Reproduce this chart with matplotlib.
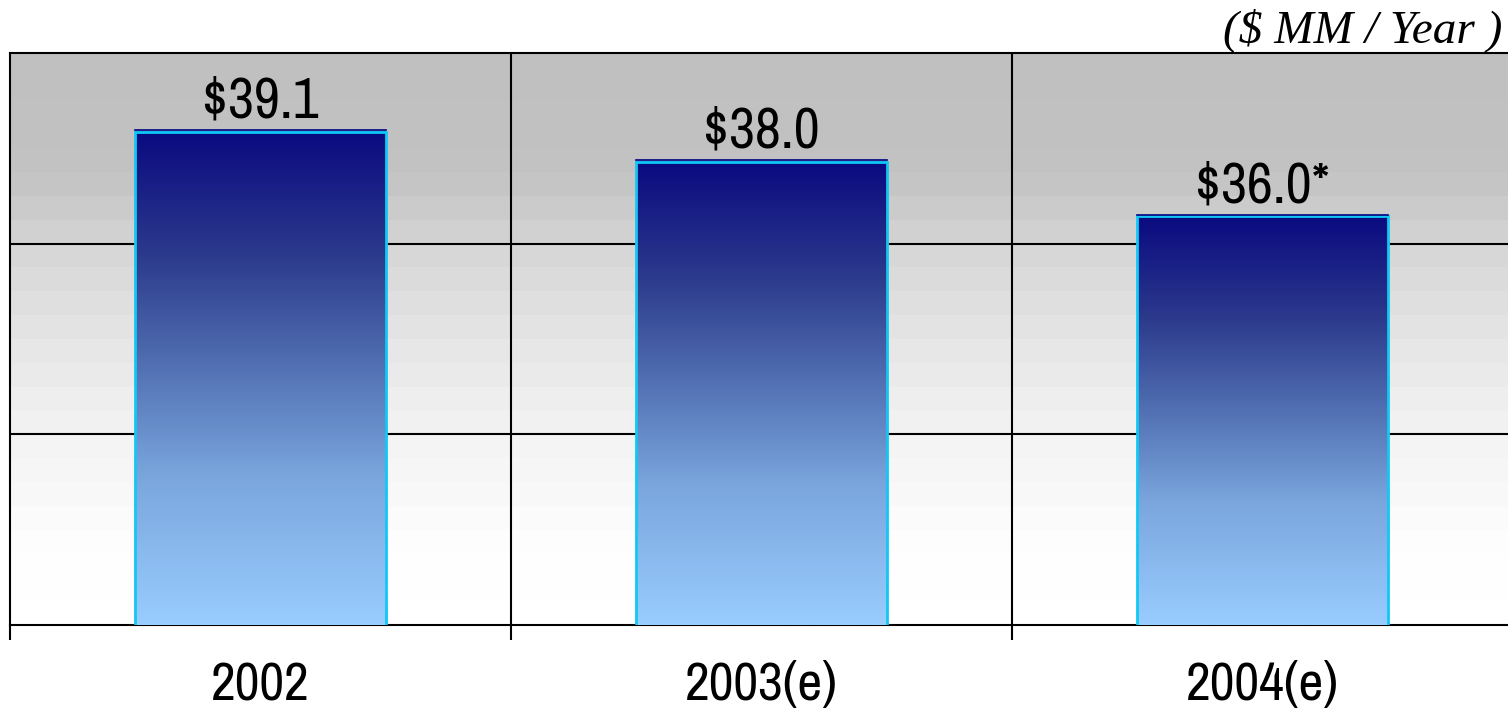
import numpy as np
import matplotlib.pyplot as plt
from matplotlib.colors import LinearSegmentedColormap

# Annual figures ($ MM / year)
years = ["2002", "2003(e)", "2004(e)"]
values = [39.1, 38.0, 36.0]
value_labels = ["$39.1", "$38.0", "$36.0*"]

narrow = ["Archivo Narrow", "Liberation Sans Narrow", "DejaVu Sans"]

fig = plt.figure(figsize=(15.08, 7.12), dpi=100)
ax = fig.add_axes([10 / 1508, 1 - 625 / 712, 1 - 10 / 1508, (625 - 53) / 712])

ax.set_xlim(-0.5, 2.49)
ax.set_ylim(21, 42)

# grey-to-white plot background
bg = LinearSegmentedColormap.from_list(
    "bg", [(0.0, "#c0c0c0"), (0.2, "#c3c3c3"), (0.33, "#d6d6d6"),
           (0.5, "#e6e6e6"), (0.67, "#f3f3f3"), (0.88, "#fefefe"), (1.0, "#ffffff")])
grad = np.linspace(0, 1, 24).reshape(-1, 1)
ax.imshow(grad, cmap=bg, aspect="auto", extent=[-0.5, 2.49, 21, 42],
          origin="upper", zorder=0, interpolation="nearest")

# bars with a navy-to-light-blue fill
barcm = LinearSegmentedColormap.from_list(
    "bars", [(0.0, "#0a0a80"), (0.25, "#2c3a8c"), (0.45, "#4d6aae"),
             (0.7, "#7aa6dd"), (1.0, "#99ccff")])
x = np.arange(len(years))
bars = ax.bar(x, values, width=0.5, color="none", edgecolor="#10c8f4",
              linewidth=2, zorder=4)
fill = np.linspace(0, 1, 256).reshape(-1, 1)
for b in bars:
    x0, w, h = b.get_x(), b.get_width(), b.get_height()
    ax.imshow(fill, cmap=barcm, aspect="auto", origin="upper",
              extent=[x0, x0 + w, 21, h], zorder=3)
    ax.plot([x0, x0 + w], [h + 0.06, h + 0.06], color="#000080", lw=1.2, zorder=5)

for xi, v, lab in zip(x, values, value_labels):
    ax.annotate(lab, (xi, v), xytext=(0, 3), textcoords="offset points",
                ha="center", va="bottom", fontsize=41, family=narrow, zorder=6)

# grid and frame
ax.set_yticks([28, 35])
ax.yaxis.grid(True, color="black", lw=1.5, zorder=2)
for xb in [0.5, 1.5]:
    ax.axvline(xb, color="black", lw=1.5, zorder=2)
ax.tick_params(axis="y", length=0, labelleft=False)
ax.set_xticks([-0.5, 0.5, 1.5])
ax.tick_params(axis="x", length=11, width=1.5, labelbottom=False)
ax.set_xticks(x, minor=True)
ax.set_xticklabels(years, minor=True, fontsize=39, family=narrow)
ax.tick_params(axis="x", which="minor", length=0, pad=26)
for s in ["left", "top", "bottom"]:
    ax.spines[s].set_linewidth(1.5)
ax.spines["right"].set_visible(False)
ax.set_axisbelow(False)

fig.text(1502 / 1508, 1 - 30 / 712, "($ MM / Year )", ha="right", va="center",
         fontsize=34, style="italic", family="Liberation Serif")

fig.savefig("out.png", dpi=100)
